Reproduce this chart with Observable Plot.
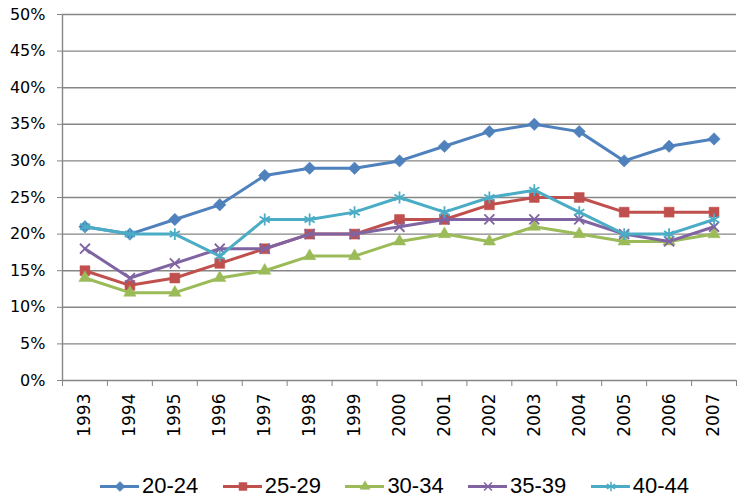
<!DOCTYPE html>
<html><head><meta charset="utf-8">
<script src="https://cdn.jsdelivr.net/npm/d3@7"></script>
<script src="https://cdn.jsdelivr.net/npm/@observablehq/plot@0.6"></script>
<style>
body{margin:0;background:#fff;}
#chart{position:relative;width:744px;height:501px;overflow:hidden;}
#legend{position:absolute;left:100px;top:476px;display:flex;font-family:"Liberation Sans",Arial,sans-serif;font-size:22px;line-height:20px;color:#000;}
.item{display:flex;align-items:center;width:122.7px;height:20px;}
.item svg{display:block;margin-right:3px;}
.lbl{white-space:nowrap;}
</style></head><body><div id="chart"></div>
<script>
const years = [1993,1994,1995,1996,1997,1998,1999,2000,2001,2002,2003,2004,2005,2006,2007];
const seriesNames = ["20-24","25-29","30-34","35-39","40-44"];
const v20_24 = [21,20,22,24,28,29,29,30,32,34,35,34,30,32,33];
const v25_29 = [15,13,14,16,18,20,20,22,22,24,25,25,23,23,23];
const v30_34 = [14,12,12,14,15,17,17,19,20,19,21,20,19,19,20];
const v35_39 = [18,14,16,18,18,20,20,21,22,22,22,22,20,19,21];
const v40_44 = [21,20,20,17,22,22,23,25,23,25,26,23,20,20,22];
const yTicks = [0,5,10,15,20,25,30,35,40,45,50];
const colors = ["#4F81BD","#C0504D","#9BBB59","#8064A2","#4BACC6"];
const symbols = ["diamond2","square","triangle","times","asterisk"];
const filled = [true,true,true,false,false];
const radii = [5.6,5.6,4.6,4.6,5.6];

const values = [v20_24,v25_29,v30_34,v35_39,v40_44];
const data = seriesNames.map((s,i)=>years.map((y,j)=>({year:y,value:values[i][j],series:s})));
const boundaries = [...years.map(y=>y-0.5), years[years.length-1]+0.5];

const marks = [
  Plot.gridY(yTicks,{stroke:"#868686",strokeOpacity:1,strokeWidth:1.4}),
  Plot.axisY(yTicks,{tickSize:5,tickPadding:12,tickFormat:d=>d+"%",fontSize:16,stroke:"#868686",color:"#000",label:null}),
  Plot.ruleX([boundaries[0]],{stroke:"#868686",strokeWidth:1.4}),
  Plot.axisX(boundaries,{tickSize:6,tickFormat:()=>"",stroke:"#868686",label:null}),
  Plot.axisX(years,{tickSize:0,tickPadding:13,tickRotate:-90,tickFormat:d=>String(d),fontSize:17,label:null})
];
data.forEach((d,i)=>{
  marks.push(Plot.line(d,{x:"year",y:"value",stroke:colors[i],strokeWidth:3}));
  marks.push(Plot.dot(d,{x:"year",y:"value",symbol:()=>symbols[i],r:radii[i],
    fill:filled[i]?colors[i]:"none",stroke:colors[i],strokeWidth:filled[i]?0.5:1.8}));
});

const chart = Plot.plot({
  width:744,height:450,
  marginLeft:62,marginRight:8,marginTop:14,marginBottom:70,
  style:{fontFamily:"DejaVu Sans",background:"#fff",color:"#000"},
  x:{type:"linear",domain:[boundaries[0],boundaries[boundaries.length-1]]},
  y:{domain:[0,50]},
  symbol:{type:"identity"},
  marks
});
const host = document.getElementById("chart");
host.appendChild(chart);

const legend = document.createElement("div");
legend.id="legend";
seriesNames.forEach((s,i)=>{
  const item=document.createElement("div");item.className="item";
  const sw = Plot.plot({
    width:39,height:20,margin:0,
    x:{domain:[0,1],axis:null},y:{domain:[0,1],axis:null},
    symbol:{type:"identity"},
    marks:[
      Plot.line([{x:0,y:0.5},{x:1,y:0.5}],{x:"x",y:"y",stroke:colors[i],strokeWidth:3}),
      Plot.dot([{x:0.5,y:0.5}],{x:"x",y:"y",symbol:()=>symbols[i],r:radii[i]*0.8,
        fill:filled[i]?colors[i]:"none",stroke:colors[i],strokeWidth:filled[i]?0.5:1.5})
    ]
  });
  item.appendChild(sw);
  const t=document.createElement("span");t.className="lbl";t.textContent=s;
  item.appendChild(t);
  legend.appendChild(item);
});
host.appendChild(legend);
</script></body></html>
